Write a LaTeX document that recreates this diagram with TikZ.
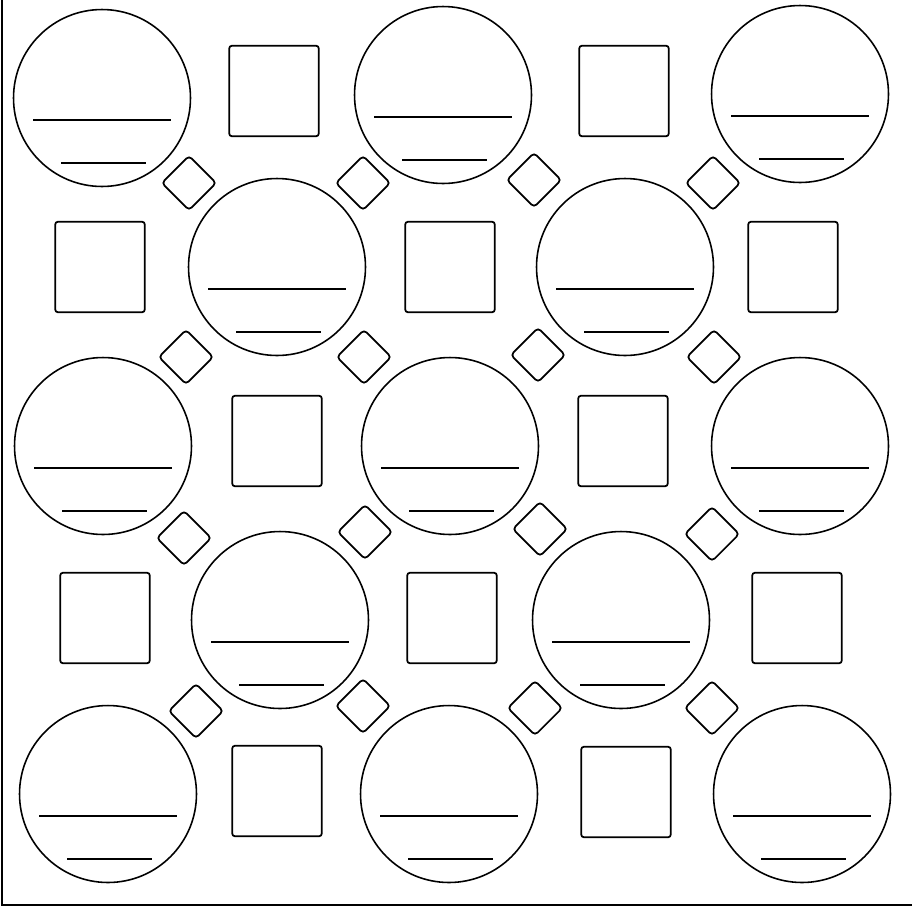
\documentclass[tikz,border=0pt]{standalone}
\usetikzlibrary{calc}
\begin{document}
\begin{tikzpicture}[x=0.02cm, y=-0.02cm]
    % Define shape styles
    \tikzstyle{ring}=[circle, draw, line width=0.9pt, minimum size=3.54cm, inner sep=0pt]
    \tikzstyle{box}=[rectangle, draw, line width=1pt, rounded corners=1.5pt, minimum width=1.79cm, minimum height=1.81cm, inner sep=0pt]
    \tikzstyle{gem}=[rectangle, draw, line width=1pt, rounded corners=2.2pt, rotate=45, minimum size=0.77cm, inner sep=0pt]
    \tikzstyle{bar}=[line width=1pt]

    \useasboundingbox (0,0) rectangle (912,907);
    \draw[line width=0.7pt] (2,0) -- (2,905) -- (912,905);

    % Circles
    \node[ring] at (102,98) (c11) {};
    \node[ring] at (443,95) (c13) {};
    \node[ring] at (800,94) (c15) {};
    \node[ring] at (277,267) (c22) {};
    \node[ring] at (625,267) (c24) {};
    \node[ring] at (103,446) (c31) {};
    \node[ring] at (450,446) (c33) {};
    \node[ring] at (800,446) (c35) {};
    \node[ring] at (280,620) (c42) {};
    \node[ring] at (621,620) (c44) {};
    \node[ring] at (108,794) (c51) {};
    \node[ring] at (449,794) (c53) {};
    \node[ring] at (802,794) (c55) {};

    % Squares
    \node[box] at (274,91) (s12) {};
    \node[box] at (624,91) (s14) {};
    \node[box] at (100,267) (s21) {};
    \node[box] at (450,267) (s23) {};
    \node[box] at (793,267) (s25) {};
    \node[box] at (277,441) (s32) {};
    \node[box] at (623,441) (s34) {};
    \node[box] at (105,618) (s41) {};
    \node[box] at (452,618) (s43) {};
    \node[box] at (797,618) (s45) {};
    \node[box] at (277,791) (s52) {};
    \node[box] at (626,792) (s54) {};

    % Diamonds
    \node[gem] at (189,183) (d11) {};
    \node[gem] at (363,183) (d12) {};
    \node[gem] at (534,180) (d13) {};
    \node[gem] at (713,183) (d14) {};
    \node[gem] at (186,357) (d21) {};
    \node[gem] at (364,357) (d22) {};
    \node[gem] at (538,355) (d23) {};
    \node[gem] at (714,357) (d24) {};
    \node[gem] at (184,538) (d31) {};
    \node[gem] at (365,532) (d32) {};
    \node[gem] at (540,529) (d33) {};
    \node[gem] at (712,534) (d34) {};
    \node[gem] at (196,711) (d41) {};
    \node[gem] at (363,706) (d42) {};
    \node[gem] at (535,708) (d43) {};
    \node[gem] at (712,708) (d44) {};

    % Blank lines inside the circles
    \foreach \c in {c11,c13,c15,c22,c24,c31,c33,c35,c42,c44,c51,c53,c55} {
        \draw[bar] ($(\c)+(-69,22)$) -- ($(\c)+(69,22)$);
        \draw[bar] ($(\c)+(-41,65)$) -- ($(\c)+(44,65)$);
    }
\end{tikzpicture}
\end{document}
